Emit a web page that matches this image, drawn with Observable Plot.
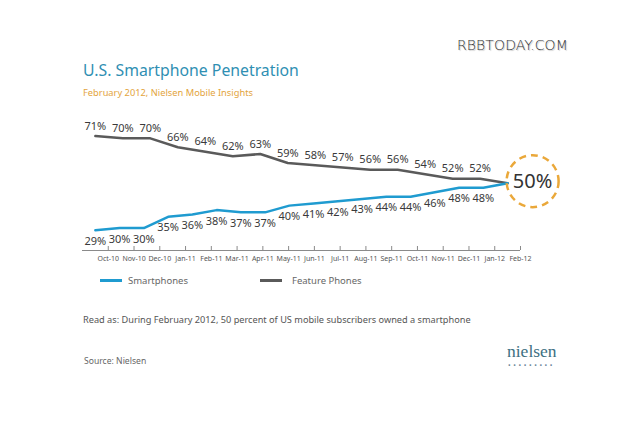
<!DOCTYPE html>
<html>
<head>
<meta charset="utf-8">
<script src="https://cdn.jsdelivr.net/npm/d3@7"></script>
<script src="https://cdn.jsdelivr.net/npm/@observablehq/plot@0.6"></script>
<style>
  html, body { margin: 0; padding: 0; background: #fff; }
  body { width: 640px; height: 426px; position: relative; overflow: hidden; font-family: "Noto Sans", "Open Sans", sans-serif; }
  .abs { position: absolute; white-space: nowrap; }
  #watermark { left: 457px; top: 37px; font-family: "DejaVu Sans", sans-serif; font-weight: 200; font-size: 14px; color: #333; letter-spacing: 0.1px; text-shadow: 1px 1px 1px #c0c0c0; }
  #title { left: 83px; top: 59px; font-size: 15.8px; color: #2f8fb3; }
  #subtitle { left: 83px; top: 86px; font-size: 9.3px; color: #e3a43c; }
  #chart { position: absolute; left: 0; top: 100px; }
  .legend { top: 274px; font-size: 9.5px; color: #666; }
  .swatch { display: inline-block; width: 22px; height: 2.5px; vertical-align: middle; margin-right: 6px; position: relative; top: -1px; }
  #note { left: 83px; top: 313px; font-size: 9.2px; color: #555; }
  #source { left: 84px; top: 355px; font-size: 8.6px; color: #666; }
  #logo { left: 507px; top: 343px; font-family: "Liberation Serif", serif; font-size: 17.5px; color: #3d6f82; line-height: 17px; }
  #logodots { left: 508px; top: 361px; font-size: 7px; color: #6f8a9c; letter-spacing: 2.6px; }
</style>
</head>
<body>
<div id="watermark" class="abs">RBBTODAY.COM</div>
<div id="title" class="abs">U.S. Smartphone Penetration</div>
<div id="subtitle" class="abs">February 2012, Nielsen Mobile Insights</div>
<div id="chart"></div>
<div class="abs legend" style="left:100px"><span class="swatch" style="background:#1f9bd0"></span>Smartphones</div>
<div class="abs legend" style="left:260px"><span class="swatch" style="background:#5a5a5a"></span><span style="margin-left:4px">Feature Phones</span></div>
<div id="note" class="abs">Read as: During February 2012, 50 percent of US mobile subscribers owned a smartphone</div>
<div id="source" class="abs">Source: Nielsen</div>
<div id="logo" class="abs">nielsen</div>
<div id="logodots" class="abs">•••••••••</div>
<script>
// Data
const months = ["Oct-10","Nov-10","Dec-10","Jan-11","Feb-11","Mar-11","Apr-11","May-11","Jun-11","Jul-11","Aug-11","Sep-11","Oct-11","Nov-11","Dec-11","Jan-12","Feb-12"];
const smartphones = [29,30,30,35,36,38,37,37,40,41,42,43,44,44,46,48,48,50];
const featurePhones = [71,70,70,66,64,62,63,59,58,57,56,56,54,52,52,50];
const seriesNames = ["Smartphones", "Feature Phones"];
const colors = ["#1f9bd0", "#5a5a5a"];
const yMin = 20;

// Each series' readings are spread evenly over the month span
const span = months.length - 1;
const toRows = (vals, name) => vals.map((v, i) => ({series: name, t: i * span / (vals.length - 1), v, last: i === vals.length - 1}));
const smartRows = toRows(smartphones, seriesNames[0]);
const featureRows = toRows(featurePhones, seriesNames[1]);
const finalRow = smartRows[smartRows.length - 1];
const tickPos = months.map((m, k) => k + 0.5);

const chart = Plot.plot({
  width: 640,
  height: 170,
  marginLeft: 82,
  marginRight: 120,
  marginTop: 10,
  marginBottom: 20,
  style: {fontFamily: "'Noto Sans', sans-serif", background: "transparent", overflow: "visible"},
  x: {domain: [-0.5, span + 0.5], axis: null, label: null},
  y: {domain: [yMin, 82.4], axis: null, label: null},
  marks: [
    Plot.ruleY([yMin], {stroke: "#8a8a8a", strokeWidth: 1}),
    Plot.axisX(tickPos, {anchor: "bottom", label: null, tickSize: 4, dy: -4, tickFormat: () => "", stroke: "#8a8a8a"}),
    Plot.axisX(tickPos, {anchor: "bottom", label: null, tickSize: 0, tickPadding: 6, tickFormat: d => months[Math.round(d - 0.5)], fontSize: 7, fill: "#555"}),
    Plot.line(featureRows, {x: "t", y: "v", stroke: colors[1], strokeWidth: 2.5, curve: "linear"}),
    Plot.line(smartRows, {x: "t", y: "v", stroke: colors[0], strokeWidth: 2.5, curve: "linear"}),
    Plot.text(featureRows.filter(d => !d.last), {x: "t", y: "v", text: d => d.v + "%", dy: -10, fontSize: 11, fill: "#3a3a3a"}),
    Plot.text(smartRows.filter(d => !d.last), {x: "t", y: "v", text: d => d.v + "%", dy: 11, fontSize: 11, fill: "#3a3a3a"}),
    Plot.dot([finalRow], {x: "t", y: "v", r: 26, dx: 25, dy: -2, stroke: "#eaa83a", strokeWidth: 2.5, strokeDasharray: "7,5", fill: "none"}),
    Plot.text([finalRow], {x: "t", y: "v", text: d => d.v + "%", dx: 25, dy: -2, fontSize: 20, fill: "#333"})
  ]
});
document.getElementById("chart").appendChild(chart);
</script>
</body>
</html>
